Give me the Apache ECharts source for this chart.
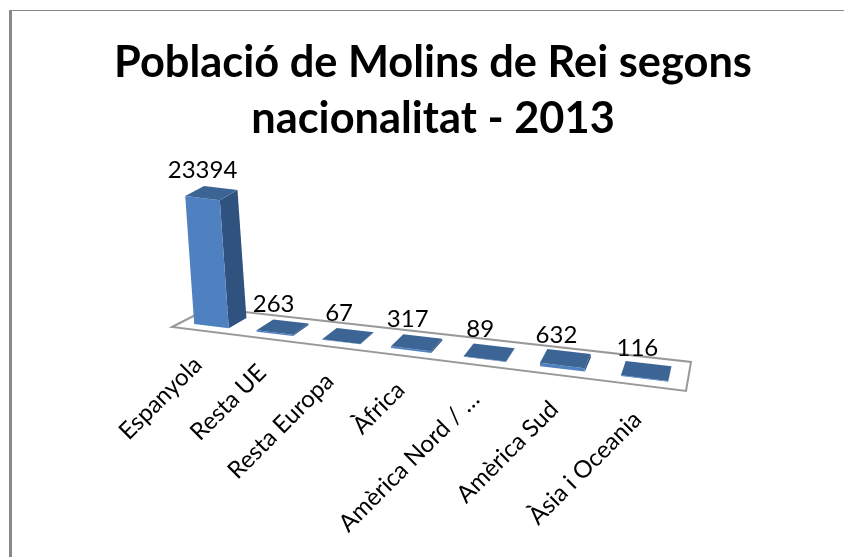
<!DOCTYPE html>
<html>
<head>
<meta charset="utf-8">
<style>html,body{margin:0;padding:0;background:#fff}#c{width:844px;height:557px}</style>
<script src="https://cdn.jsdelivr.net/npm/echarts@6/dist/echarts.min.js"></script>
</head>
<body>
<div id="c"></div>
<script>
const titleText = 'Població de Molins de Rei segons\nnacionalitat - 2013';
const categories = ['Espanyola','Resta UE','Resta Europa','Àfrica','Amèrica Nord / …','Amèrica Sud','Àsia i Oceania'];
const values = [23394,263,67,317,89,632,116];

// Floor of the tilted 3D view, and its perspective settings
const floorFrontLeft = [172,327], floorFrontRight = [686,391];
const floorBackLeft = [209,308], floorBackRight = [691,362];
const foreshorten = 1.2, lean = -0.07;
const depthFront = 0.24, depthBack = 0.76, barShare = 0.56;

function lerp(a,b,t){return [a[0]+(b[0]-a[0])*t, a[1]+(b[1]-a[1])*t];}
function floorPoint(u,v){
  const t = u/(u+(1-u)*foreshorten);
  return lerp(lerp(floorFrontLeft,floorFrontRight,t), lerp(floorBackLeft,floorBackRight,t), v);
}
function poly(points,fill,extra){
  return Object.assign({type:'polygon',shape:{points},style:{fill}},extra||{});
}
function renderItem(params,api){
  const i = api.value(0), val = api.value(1);
  const cs = params.coordSys;
  const base = api.coord([i,0]), top = api.coord([i,val]);
  const h = base[1]-top[1];
  const u = (base[0]-cs.x)/cs.width;
  const hw = api.size([1,0])[0]*barShare/2/cs.width;
  const fl = floorPoint(u-hw,depthFront), fr = floorPoint(u+hw,depthFront);
  const bl = floorPoint(u-hw,depthBack), br = floorPoint(u+hw,depthBack);
  const up = p => [p[0]+lean*h, p[1]-h];
  const kids = [];
  if (params.dataIndex === 0) {
    kids.push({type:'polygon',shape:{points:[floorFrontLeft,floorBackLeft,floorBackRight,floorFrontRight]},
      style:{fill:'#ffffff',stroke:'#999999',lineWidth:2}});
  }
  kids.push(poly([fr,br,up(br),up(fr)],'#30527f'));
  kids.push(poly([fl,fr,up(fr),up(fl)],'#4f81c0'));
  kids.push(poly([up(fl),up(fr),up(br),up(bl)],'#3c6596'));
  const c = up(floorPoint(u,(depthFront+depthBack)/2));
  kids.push({type:'text',style:{text:String(val),x:c[0]-9,y:c[1]-23,align:'center',verticalAlign:'middle',
    font:'24px Lato',fill:'#000'}});
  const f = floorPoint(u,0);
  kids.push({type:'text',x:f[0]-5,y:f[1]+30,rotation:Math.PI/4,
    style:{text:categories[i],x:0,y:0,align:'right',verticalAlign:'middle',font:'24px Lato',fill:'#000'}});
  return {type:'group',children:kids};
}
const chart = echarts.init(document.getElementById('c'),null,{renderer:'canvas'});
chart.setOption({
  animation:false,
  backgroundColor:'#ffffff',
  title:{text:titleText,left:428,top:30,textAlign:'center',
    textStyle:{fontFamily:'Lato',fontWeight:'bold',fontSize:43.4,lineHeight:56,color:'#000'}},
  grid:{left:172,width:514,top:180,height:136.8},
  xAxis:{type:'category',data:categories,show:false},
  yAxis:{type:'value',min:0,max:25000,show:false},
  graphic:[
    {type:'rect',shape:{x:9,y:10,width:3,height:547},style:{fill:'#888888'}},
    {type:'rect',shape:{x:9,y:10,width:835,height:1},style:{fill:'#888888'}}
  ],
  series:[{type:'custom',renderItem,data:values.map((v,i)=>[i,v]),encode:{x:0,y:1},clip:false}]
});
</script>
</body>
</html>
